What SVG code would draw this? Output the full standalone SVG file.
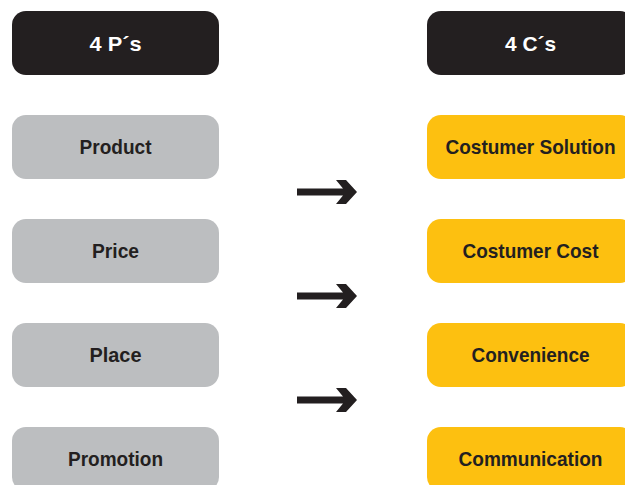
<svg xmlns="http://www.w3.org/2000/svg" width="625" height="485" viewBox="0 0 625 485">
<style>
.hdr{fill:#231f20}
.p{fill:#bcbec0}
.c{fill:#fdc010}
.ht{font-family:"Liberation Sans",Arial,sans-serif;font-weight:bold;font-size:21px;fill:#ffffff;text-anchor:middle}
.t{font-family:"Liberation Sans",Arial,sans-serif;font-weight:bold;font-size:21px;fill:#231f20;text-anchor:middle}
.arr{fill:#231f20}
</style>
<defs>
<polygon id="arrow" points="0,-3.5 46,-3.5 39,-12 49,-12 60,0 49,12 39,12 46,3.5 0,3.5"/>
</defs>
<rect width="625" height="485" fill="#ffffff"/>
<g id="h-4p"><rect class="hdr" x="12" y="11" width="207" height="64" rx="14"/><text class="ht" x="115.5" y="51" textLength="52" lengthAdjust="spacingAndGlyphs">4 P´s</text></g>
<g id="h-4c"><rect class="hdr" x="427" y="11" width="207" height="64" rx="14"/><text class="ht" x="530.5" y="51" textLength="51" lengthAdjust="spacingAndGlyphs">4 C´s</text></g>
<g id="product"><rect class="p" x="12" y="115" width="207" height="64" rx="14"/><text class="t" x="115.5" y="154" textLength="72" lengthAdjust="spacingAndGlyphs">Product</text></g>
<g id="price"><rect class="p" x="12" y="219" width="207" height="64" rx="14"/><text class="t" x="115.5" y="258" textLength="47" lengthAdjust="spacingAndGlyphs">Price</text></g>
<g id="place"><rect class="p" x="12" y="323" width="207" height="64" rx="14"/><text class="t" x="115.5" y="362" textLength="52" lengthAdjust="spacingAndGlyphs">Place</text></g>
<g id="promotion"><rect class="p" x="12" y="427" width="207" height="64" rx="14"/><text class="t" x="115.5" y="466" textLength="95" lengthAdjust="spacingAndGlyphs">Promotion</text></g>
<g id="solution"><rect class="c" x="427" y="115" width="207" height="64" rx="14"/><text class="t" x="530.5" y="154" textLength="170" lengthAdjust="spacingAndGlyphs">Costumer Solution</text></g>
<g id="cost"><rect class="c" x="427" y="219" width="207" height="64" rx="14"/><text class="t" x="530.5" y="258" textLength="136" lengthAdjust="spacingAndGlyphs">Costumer Cost</text></g>
<g id="convenience"><rect class="c" x="427" y="323" width="207" height="64" rx="14"/><text class="t" x="530.5" y="362" textLength="118" lengthAdjust="spacingAndGlyphs">Convenience</text></g>
<g id="communication"><rect class="c" x="427" y="427" width="207" height="64" rx="14"/><text class="t" x="530.5" y="466" textLength="144" lengthAdjust="spacingAndGlyphs">Communication</text></g>
<g id="connectors">
<use href="#arrow" class="arr" x="297" y="192"/>
<use href="#arrow" class="arr" x="297" y="296"/>
<use href="#arrow" class="arr" x="297" y="400"/>
</g>
</svg>
